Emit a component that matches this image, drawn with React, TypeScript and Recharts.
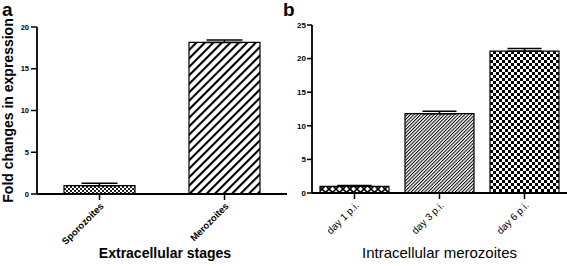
import React from 'react';
import { BarChart, Bar, XAxis, YAxis, ErrorBar, Cell } from 'recharts';

// panel a - extracellular stages
const stagesA = ['Sporozoites', 'Merozoites'];
const foldA = [1.0, 18.15];
const semA = [0.28, 0.28];
const ticksA = [0, 5, 10, 15, 20];

// panel b - intracellular merozoites
const stagesB = ['day 1 p.i.', 'day 3 p.i.', 'day 6 p.i.'];
const foldB = [1.0, 11.8, 21.1];
const semB = [0.12, 0.35, 0.4];
const ticksB = [0, 5, 10, 15, 20, 25];

const font = '"Liberation Sans", Arial, sans-serif';

const dataA = stagesA.map((name, i) => ({ name, fold: foldA[i], err: [0, semA[i]] }));
const dataB = stagesB.map((name, i) => ({ name, fold: foldB[i], err: [0, semB[i]] }));

const fillsA = ['url(#patSporo)', 'url(#patMero)'];
const fillsB = ['url(#patDay1)', 'url(#patDay3)', 'url(#patDay6)'];

const App: React.FC = () => {
  return (
    <div style={{ position: 'absolute', left: 0, top: 0, width: 567, height: 266, background: '#fff', fontFamily: font }}>
      <div style={{ position: 'absolute', left: 0, top: 0 }}>
        <BarChart width={290} height={266} data={dataA} margin={{ top: 27, right: 3, left: 0, bottom: 0 }}>
          <defs>
            <pattern id="patSporo" patternUnits="userSpaceOnUse" width={4} height={4}>
              <rect width={4} height={4} fill="#fff" />
              <rect x={0} y={0} width={2} height={2} fill="#222" />
              <rect x={2} y={2} width={2} height={2} fill="#222" />
            </pattern>
            <pattern id="patMero" patternUnits="userSpaceOnUse" width={6} height={6} patternTransform="rotate(45)">
              <rect width={6} height={6} fill="#fff" />
              <line x1={1} y1={0} x2={1} y2={6} stroke="#000" strokeWidth={2.2} />
            </pattern>
          </defs>
          <text x={2} y={16} fontSize={19} fontWeight="bold" fontFamily={font} fill="#000">a</text>
          <XAxis
            dataKey="name"
            height={72}
            interval={0}
            angle={-45}
            tickSize={6}
            tick={{ fontSize: 9.5, fontWeight: 'bold', fill: '#000', stroke: 'none', fontFamily: font, textAnchor: 'end' }}
            axisLine={{ stroke: '#000', strokeWidth: 1.8 }}
            tickLine={{ stroke: '#000', strokeWidth: 1.5 }}
            label={{ value: 'Extracellular stages', position: 'insideBottom', offset: 8, dx: 3, style: { fontSize: 14, fontWeight: 'bold', fill: '#000', fontFamily: font } }}
          />
          <YAxis
            width={37}
            domain={[0, 20]}
            ticks={ticksA}
            tickSize={6}
            tick={{ fontSize: 7.5, fontWeight: 'bold', fill: '#000', stroke: 'none', fontFamily: font }}
            axisLine={{ stroke: '#000', strokeWidth: 1.8 }}
            tickLine={{ stroke: '#000', strokeWidth: 1.5 }}
            label={{ value: 'Fold changes in expression', angle: -90, position: 'insideLeft', offset: 8, style: { fontSize: 14, fontWeight: 'bold', fill: '#000', fontFamily: font, textAnchor: 'middle' } }}
          />
          <Bar dataKey="fold" barSize={71} stroke="#000" strokeWidth={1.2} isAnimationActive={false}>
            {dataA.map((d, i) => (
              <Cell key={d.name} fill={fillsA[i]} />
            ))}
            <ErrorBar dataKey="err" width={18} stroke="#000" strokeWidth={1.5} direction="y" />
          </Bar>
        </BarChart>
      </div>
      <div style={{ position: 'absolute', left: 280, top: 0 }}>
        <BarChart width={287} height={266} data={dataB} margin={{ top: 25, right: 0, left: 0, bottom: 0 }}>
          <defs>
            <pattern id="patDay1" patternUnits="userSpaceOnUse" width={7} height={7}>
              <rect width={7} height={7} fill="#fff" />
              <path d="M0,0 L7,7 M7,0 L0,7" stroke="#000" strokeWidth={1.6} />
            </pattern>
            <pattern id="patDay3" patternUnits="userSpaceOnUse" width={2.4} height={2.4} patternTransform="rotate(45)">
              <rect width={2.4} height={2.4} fill="#fff" />
              <line x1={0.5} y1={0} x2={0.5} y2={2.4} stroke="#000" strokeWidth={1} />
            </pattern>
            <pattern id="patDay6" patternUnits="userSpaceOnUse" width={6} height={6}>
              <rect width={6} height={6} fill="#fff" />
              <rect x={0} y={0} width={3} height={3} fill="#000" />
              <rect x={3} y={3} width={3} height={3} fill="#000" />
            </pattern>
          </defs>
          <text x={3} y={16} fontSize={19} fontWeight="bold" fontFamily={font} fill="#000">b</text>
          <XAxis
            dataKey="name"
            height={73}
            interval={0}
            angle={-45}
            tickSize={6}
            tick={{ fontSize: 10, fill: '#000', stroke: 'none', fontFamily: font, textAnchor: 'end' }}
            axisLine={{ stroke: '#000', strokeWidth: 1.8 }}
            tickLine={{ stroke: '#000', strokeWidth: 1.5 }}
            label={{ value: 'Intracellular merozoites', position: 'insideBottom', offset: 8, style: { fontSize: 15, fill: '#000', fontFamily: font } }}
          />
          <YAxis
            width={32}
            domain={[0, 25]}
            ticks={ticksB}
            tickSize={5}
            tickMargin={1}
            tick={{ fontSize: 8, fontWeight: 'bold', fill: '#000', stroke: 'none', fontFamily: font }}
            axisLine={{ stroke: '#000', strokeWidth: 1.8 }}
            tickLine={{ stroke: '#000', strokeWidth: 1.5 }}
          />
          <Bar dataKey="fold" barSize={69} stroke="#000" strokeWidth={1.2} isAnimationActive={false}>
            {dataB.map((d, i) => (
              <Cell key={d.name} fill={fillsB[i]} />
            ))}
            <ErrorBar dataKey="err" width={17} stroke="#000" strokeWidth={1.5} direction="y" />
          </Bar>
        </BarChart>
      </div>
    </div>
  );
};

export default App;
